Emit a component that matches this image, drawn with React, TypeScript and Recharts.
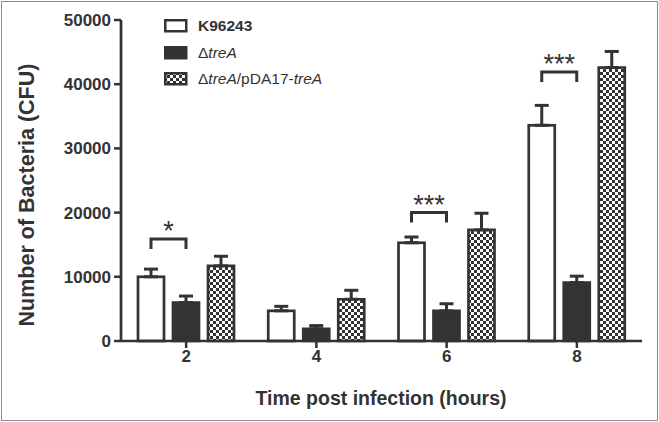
import React from 'react';
import { BarChart, Bar, XAxis, YAxis, ErrorBar, Legend } from 'recharts';

const times = ['2', '4', '6', '8'];
const k96243 = [10000, 4700, 15300, 33600];
const k96243Err = [1200, 700, 900, 3100];
const treA = [6000, 1900, 4700, 9100];
const treAErr = [1000, 500, 1100, 1000];
const complemented = [11700, 6500, 17300, 42600];
const complementedErr = [1500, 1400, 2600, 2500];
const bracketLevels: (number | null)[] = [15900, null, 20000, 41900];
const sigLabels = ['*', '', '***', '***'];
const yTicks = [0, 10000, 20000, 30000, 40000, 50000];
const seriesNames = ['K96243', '\u0394treA', '\u0394treA/pDA17-treA'];

const data = times.map((t, i) => ({
  time: t,
  k96243: k96243[i],
  k96243Err: [0, k96243Err[i]],
  treA: treA[i],
  treAErr: [0, treAErr[i]],
  comp: complemented[i],
  compErr: [0, complementedErr[i]],
  bracket: bracketLevels[i],
  sig: sigLabels[i],
}));

const FONT = '"Liberation Sans", Arial, sans-serif';
const DARK = '#333333';
const BAR_GAP = 9;
const BAR_SIZE = 26;
const fills = ['#ffffff', DARK, 'url(#checker)'];

const WhiteShape = (props: any) => {
  const { x, y, width, height, payload } = props;
  const base = y + height;
  const ppu = height / payload.k96243;
  let extra = null;
  if (payload.bracket != null) {
    const by = base - payload.bracket * ppu;
    const x1 = x + width / 2;
    const x2 = x + width + BAR_GAP + BAR_SIZE / 2;
    extra = (
      <g>
        <path
          d={`M${x1},${by + 10} L${x1},${by} L${x2},${by} L${x2},${by + 10}`}
          fill="none"
          stroke={DARK}
          strokeWidth={3}
        />
        <text
          x={(x1 + x2) / 2}
          y={by + 1}
          textAnchor="middle"
          fontFamily={FONT}
          fontSize={27}
          fill={DARK}
        >
          {payload.sig}
        </text>
      </g>
    );
  }
  return (
    <g>
      <rect x={x} y={y} width={width} height={height} fill="#ffffff" stroke={DARK} strokeWidth={2.7} />
      {extra}
    </g>
  );
};

const renderName = (name: string) => {
  const parts = name.split(/(treA)/);
  return parts.map((p, i) =>
    p === 'treA' ? (
      <i key={i}>{p}</i>
    ) : (
      <span key={i}>{p}</span>
    )
  );
};

const renderLegend = () => (
  <div style={{ fontFamily: FONT, color: DARK }}>
    {seriesNames.map((n, i) => (
      <div key={n} style={{ display: 'flex', alignItems: 'center', height: 26.5 }}>
        <svg width={24} height={14} style={{ display: 'block' }}>
          <rect x={1.25} y={1.25} width={21} height={11} fill={fills[i]} stroke={DARK} strokeWidth={2.5} />
        </svg>
        <span style={{ marginLeft: 10, fontSize: 15.5, fontWeight: i === 0 ? 'bold' : 'normal', whiteSpace: 'nowrap' }}>
          {renderName(n)}
        </span>
      </div>
    ))}
  </div>
);

const YTitle = () => (
  <text
    x={27}
    y={195}
    transform="rotate(-90, 27, 195)"
    textAnchor="middle"
    dominantBaseline="central"
    fontFamily={FONT}
    fontWeight="bold"
    fontSize={21.5}
    fill={DARK}
  >
    Number of Bacteria (CFU)
  </text>
);

const XTitle = () => (
  <text
    x={381}
    y={398}
    textAnchor="middle"
    dominantBaseline="central"
    fontFamily={FONT}
    fontWeight="bold"
    fontSize={19.5}
    fill={DARK}
  >
    Time post infection (hours)
  </text>
);

export default function App() {
  const tickStyle = { fontFamily: FONT, fontWeight: 'bold', fontSize: 17, fill: DARK };
  return (
    <div style={{ position: 'absolute', left: 0, top: 0, width: 659, height: 422, background: '#fff' }}>
      <svg width={0} height={0} style={{ position: 'absolute' }}>
        <defs>
          <pattern id="checker" width={6} height={6} patternUnits="userSpaceOnUse">
            <rect width={6} height={6} fill="#ffffff" />
            <rect x={0} y={0} width={3} height={3} fill={DARK} />
            <rect x={3} y={3} width={3} height={3} fill={DARK} />
          </pattern>
        </defs>
      </svg>
      <div
        style={{
          position: 'absolute',
          left: 1,
          top: 1,
          width: 657,
          height: 420,
          boxSizing: 'border-box',
          border: '1px solid #8c8c8c',
          pointerEvents: 'none',
        }}
      />
      <BarChart
        width={659}
        height={422}
        data={data}
        margin={{ top: 20, right: 17, bottom: 0, left: 0 }}
        barGap={BAR_GAP}
      >
        <XAxis
          dataKey="time"
          height={81}
          axisLine={{ stroke: DARK, strokeWidth: 2.7 }}
          tickLine={{ stroke: DARK, strokeWidth: 2.5 }}
          tickSize={7}
          tick={tickStyle}
          label={<XTitle />}
        />
        <YAxis
          width={121}
          domain={[0, 50000]}
          ticks={yTicks}
          interval={0}
          axisLine={{ stroke: DARK, strokeWidth: 2.7 }}
          tickLine={{ stroke: DARK, strokeWidth: 2.5 }}
          tickSize={7}
          tickMargin={3}
          tick={tickStyle}
          label={<YTitle />}
        />
        <Legend
          layout="vertical"
          align="center"
          verticalAlign="middle"
          content={renderLegend}
          wrapperStyle={{ left: 164, top: 13, right: 'auto', bottom: 'auto', width: 'auto' }}
        />
        <Bar
          dataKey="k96243"
          name={seriesNames[0]}
          barSize={BAR_SIZE}
          fill="#ffffff"
          stroke={DARK}
          strokeWidth={2.7}
          shape={WhiteShape}
          isAnimationActive={false}
        >
          <ErrorBar dataKey="k96243Err" width={7} stroke={DARK} strokeWidth={3} direction="y" />
        </Bar>
        <Bar
          dataKey="treA"
          name={seriesNames[1]}
          barSize={BAR_SIZE}
          fill={DARK}
          stroke={DARK}
          strokeWidth={2.7}
          isAnimationActive={false}
        >
          <ErrorBar dataKey="treAErr" width={7} stroke={DARK} strokeWidth={3} direction="y" />
        </Bar>
        <Bar
          dataKey="comp"
          name={seriesNames[2]}
          barSize={BAR_SIZE}
          fill="url(#checker)"
          stroke={DARK}
          strokeWidth={2.7}
          isAnimationActive={false}
        >
          <ErrorBar dataKey="compErr" width={7} stroke={DARK} strokeWidth={3} direction="y" />
        </Bar>
      </BarChart>
    </div>
  );
}
